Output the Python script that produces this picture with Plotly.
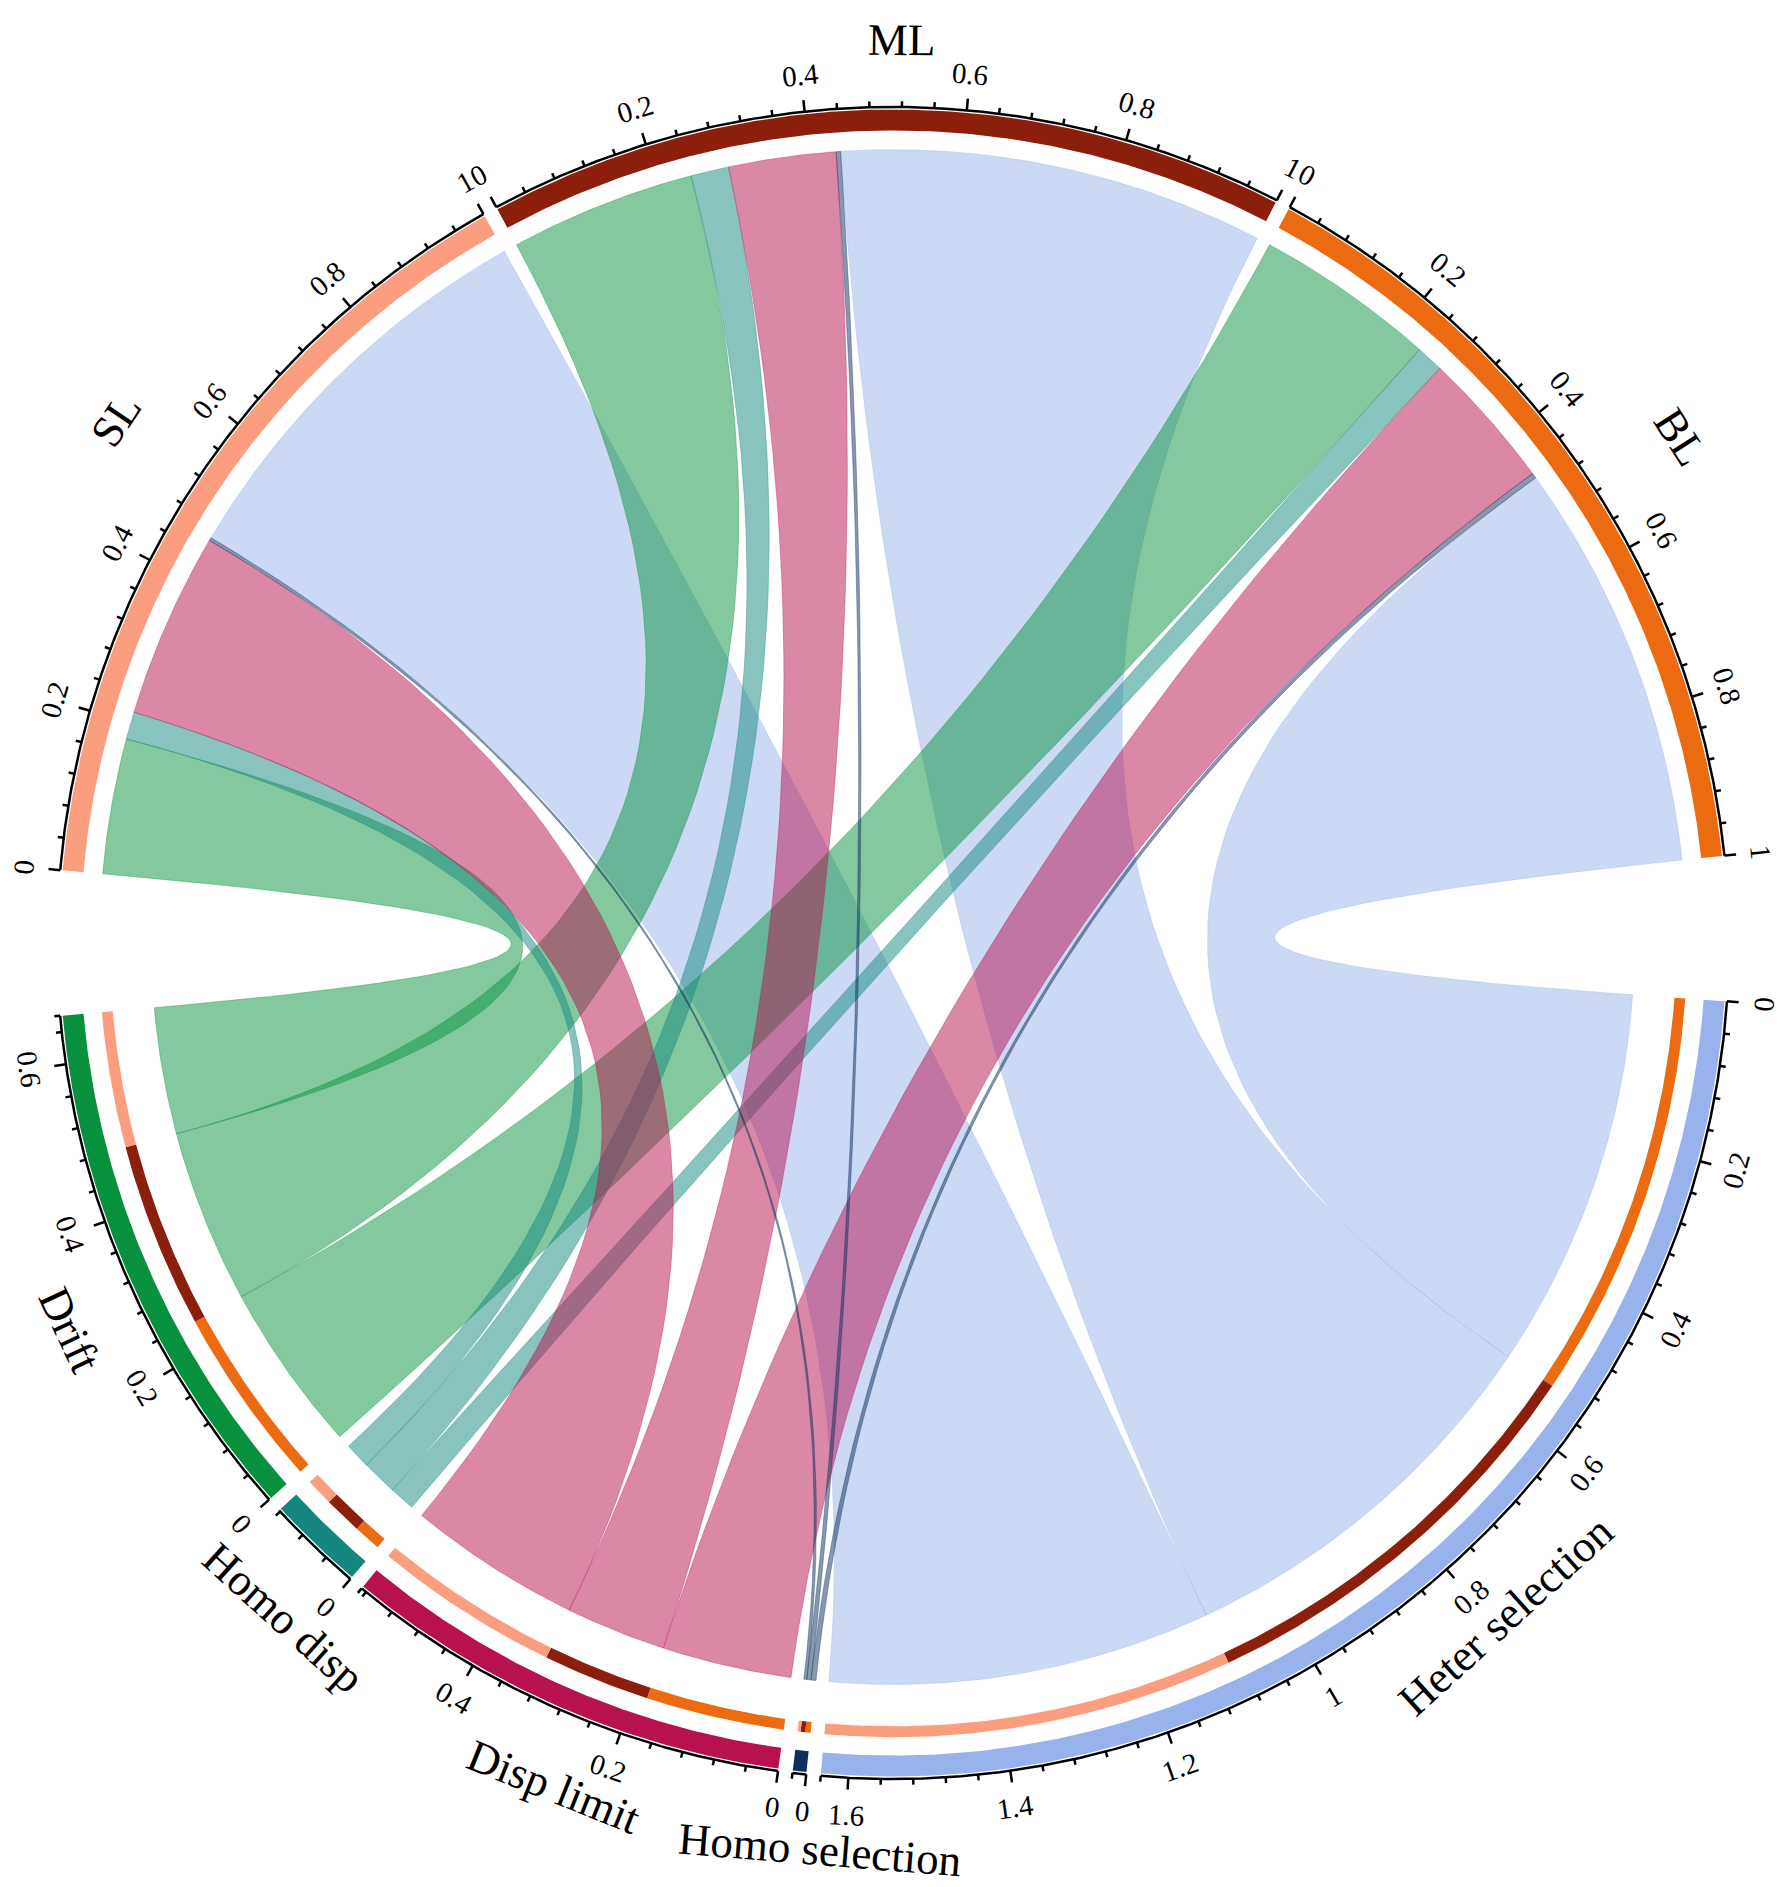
import numpy as np
import plotly.graph_objects as go

# sectors on the circle, clockwise from the left gap
sources = ["SL", "ML", "BL"]
targets = ["Heter selection", "Homo selection", "Disp limit", "Homo disp", "Drift"]

# share of each process in each zone (order: SL, ML, BL)
drift = [0.178, 0.244, 0.238]
homo_disp = [0.036, 0.050, 0.036]
disp_limit = [0.244, 0.141, 0.182]
homo_sel = [0.004, 0.006, 0.007]
heter_sel = [0.538, 0.559, 0.537]

flows = {"Drift": drift, "Homo disp": homo_disp, "Disp limit": disp_limit,
         "Homo selection": homo_sel, "Heter selection": heter_sel}

colors = {"SL": "#FB9E80", "ML": "#8B1F0B", "BL": "#EC6A10",
          "Drift": "#08913D", "Homo disp": "#13877D", "Disp limit": "#B8114F",
          "Homo selection": "#0F2F5C", "Heter selection": "#98B3EB"}

W, H = 1784, 1887
CX, CY, RPX = 893, 943, 836
SMALL_GAP, BIG_GAP = 1.0, 10.0
R_BAR = (0.972, 0.997)
R_INNER = (0.937, 0.950)
R_TOP, R_BOT = 0.949, 0.887
NAME_R = {"SL": 1.12, "ML": 1.08, "BL": 1.12}


def rgba(hex_color, a):
    h = hex_color.lstrip("#")
    return "rgba(%d,%d,%d,%s)" % (int(h[0:2], 16), int(h[2:4], 16), int(h[4:6], 16), a)


def pt(deg, r):
    t = np.radians(deg)
    return r * np.cos(t), r * np.sin(t)


def arc(a, b, r):
    n = max(3, int(abs(b - a) * 3) + 3)
    t = np.radians(np.linspace(a, b, n))
    return list(r * np.cos(t)), list(r * np.sin(t))


def bezier(p0, p2):
    t = np.linspace(0, 1, 60)
    x = (1 - t) ** 2 * p0[0] + t ** 2 * p2[0]
    y = (1 - t) ** 2 * p0[1] + t ** 2 * p2[1]
    return list(x), list(y)


def annulus(a, b, r0, r1):
    xo, yo = arc(a, b, r1)
    xi, yi = arc(b, a, r0)
    return xo + xi + [xo[0]], yo + yi + [yo[0]]


# sector sizes and angles
totals = {s: sum(flows[t][i] for t in targets) for i, s in enumerate(sources)}
for t in targets:
    totals[t] = sum(flows[t])
sectors = sources + targets
unit = (360 - 6 * SMALL_GAP - 2 * BIG_GAP) / sum(totals.values())
start, end = {}, {}
ang = 180 - BIG_GAP / 2
for name in sectors:
    start[name] = ang
    ang -= totals[name] * unit
    end[name] = ang
    ang -= BIG_GAP if name in ("BL", "Drift") else SMALL_GAP

# link end spans
src_order = ["Drift", "Homo disp", "Disp limit", "Homo selection", "Heter selection"]
tgt_order = ["BL", "ML", "SL"]
src_span, tgt_span = {}, {}
for i, s in enumerate(sources):
    c = 0.0
    for t in src_order:
        v = flows[t][i]
        src_span[(s, t)] = (start[s] - c * unit, start[s] - (c + v) * unit)
        c += v
for t in targets:
    c = 0.0
    for s in tgt_order:
        v = flows[t][sources.index(s)]
        tgt_span[(s, t)] = (start[t] - c * unit, start[t] - (c + v) * unit)
        c += v

fig = go.Figure()

# chords
for t in ["Heter selection", "Drift", "Homo disp", "Disp limit", "Homo selection"]:
    for s in sources:
        a1, a2 = src_span[(s, t)]
        b1, b2 = tgt_span[(s, t)]
        x1, y1 = arc(a1, a2, R_TOP)
        x2, y2 = bezier(pt(a2, R_TOP), pt(b1, R_BOT))
        x3, y3 = arc(b1, b2, R_BOT)
        x4, y4 = bezier(pt(b2, R_BOT), pt(a1, R_TOP))
        fig.add_trace(go.Scatter(x=x1 + x2 + x3 + x4, y=y1 + y2 + y3 + y4,
                                 mode="lines", fill="toself",
                                 fillcolor=rgba(colors[t], 0.5),
                                 line=dict(color=rgba(colors[t], 0.35), width=1),
                                 hoverinfo="skip"))

# outer sector bars
for name in sectors:
    x, y = annulus(start[name], end[name], *R_BAR)
    fig.add_trace(go.Scatter(x=x, y=y, mode="lines", fill="toself",
                             fillcolor=colors[name], line=dict(width=0),
                             hoverinfo="skip"))

# inner bars on process sectors, split by zone
for (s, t), (b1, b2) in tgt_span.items():
    x, y = annulus(b1, b2, *R_INNER)
    fig.add_trace(go.Scatter(x=x, y=y, mode="lines", fill="toself",
                             fillcolor=colors[s], line=dict(width=0),
                             hoverinfo="skip"))

# axes with ticks
ax_x, ax_y, tk_x, tk_y = [], [], [], []
annotations = []


def text_angle(deg):
    d = (deg + 180) % 360 - 180
    return 90 - d if d >= 0 else -90 - d


for name in sectors:
    x, y = arc(start[name], end[name], 1.0)
    ax_x += x + [None]
    ax_y += y + [None]
    n_ticks = int(totals[name] / 0.04 + 1e-6)
    values = [k * 0.04 for k in range(n_ticks + 1)]
    if totals[name] - values[-1] > 0.005:
        values.append(totals[name])
    for k, v in enumerate(values):
        a = start[name] - v * unit
        major = k % 5 == 0 and k <= n_ticks
        ln = 0.014 if major else 0.007
        p0, p1 = pt(a, 1.0), pt(a, 1.0 + ln)
        tk_x += [p0[0], p1[0], None]
        tk_y += [p0[1], p1[1], None]
        if major:
            lx, ly = pt(a, 1.044)
            annotations.append(dict(x=lx, y=ly, text=f"{round(v, 2):g}", showarrow=False,
                                    xanchor="center", yanchor="middle",
                                    textangle=text_angle(a),
                                    font=dict(family="Liberation Serif", size=29, color="black")))

fig.add_trace(go.Scatter(x=ax_x, y=ax_y, mode="lines",
                         line=dict(color="black", width=2.5), hoverinfo="skip"))
fig.add_trace(go.Scatter(x=tk_x, y=tk_y, mode="lines",
                         line=dict(color="black", width=2.5), hoverinfo="skip"))

# sector names
for name in sectors:
    mid = (start[name] + end[name]) / 2
    mid += -1.1 if name in sources else 1.8
    lx, ly = pt(mid, NAME_R.get(name, 1.088))
    annotations.append(dict(x=lx, y=ly, text=name, showarrow=False,
                            xanchor="center", yanchor="middle",
                            textangle=text_angle(mid),
                            font=dict(family="Liberation Serif", size=45, color="black")))

fig.update_layout(
    width=W, height=H,
    margin=dict(l=0, r=0, t=0, b=0),
    paper_bgcolor="white", plot_bgcolor="white",
    showlegend=False,
    xaxis=dict(visible=False, range=[-CX / RPX, (W - CX) / RPX], fixedrange=True),
    yaxis=dict(visible=False, range=[-(H - CY) / RPX, CY / RPX], fixedrange=True),
    annotations=annotations,
)

fig.write_html("out.html", config={"displayModeBar": False},
               post_script="document.body.style.margin='0';")
